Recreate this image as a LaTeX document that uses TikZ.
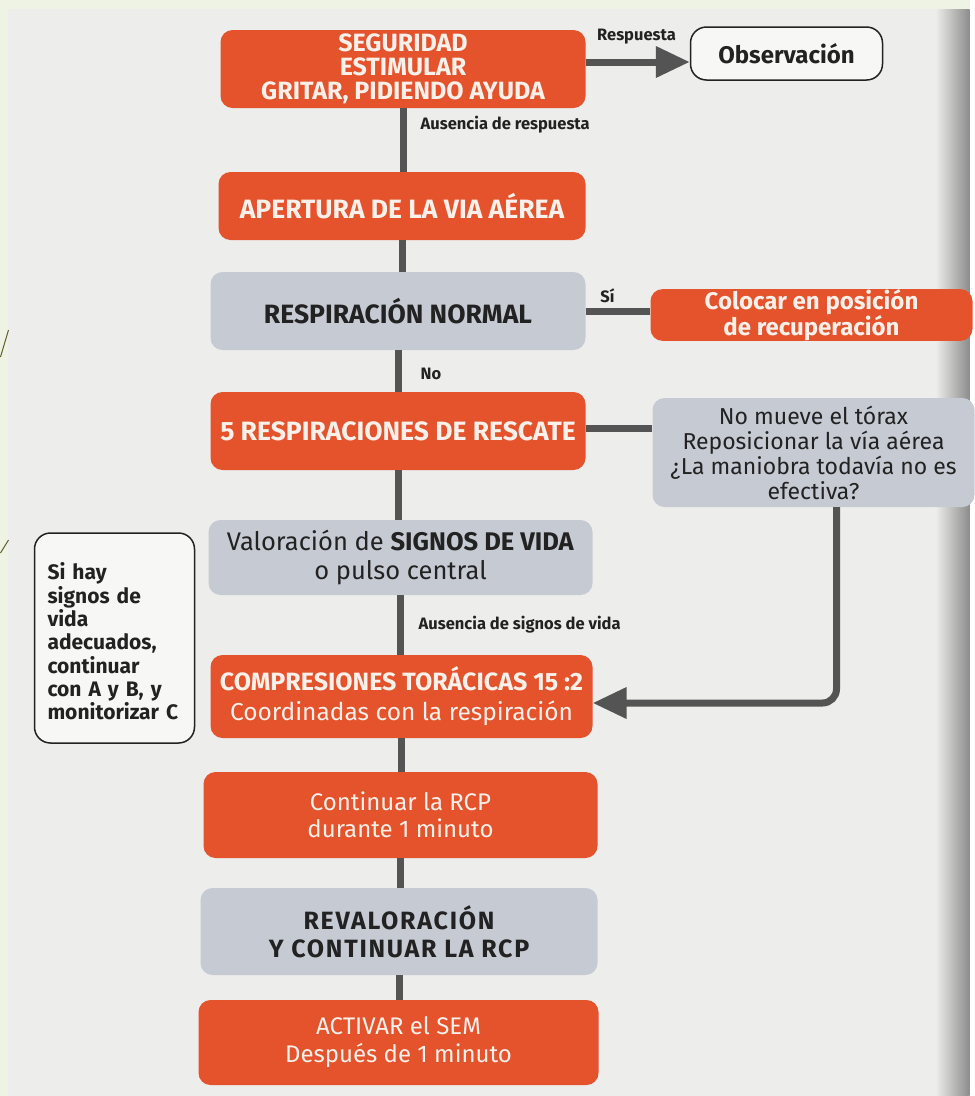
\documentclass[tikz,border=0pt]{standalone}
\usepackage{fontspec}
\setmainfont{Fira Sans}
\usetikzlibrary{positioning}
\usetikzlibrary{arrows.meta,calc}
\definecolor{cprorange}{HTML}{E5532C}
\definecolor{cprgrey}{HTML}{C6CAD2}
\definecolor{cprline}{HTML}{545454}
\definecolor{cprpage}{HTML}{EDEDEB}
\definecolor{cprstrip}{HTML}{EEF3E4}
\definecolor{cprtext}{HTML}{222222}
\definecolor{cprwhite}{HTML}{FBF1EA}
\newcommand{\cprtitle}{\fontsize{26.5}{28}\selectfont\bfseries}
\tikzstyle{orangebox}=[rectangle,rounded corners=12pt,fill=cprorange,text=cprwhite,align=center,inner sep=0pt]
\tikzstyle{greybox}=[rectangle,rounded corners=12pt,fill=cprgrey,text=cprtext,align=center,inner sep=0pt]
\tikzstyle{whitebox}=[rectangle,rounded corners=16pt,draw=cprtext,line width=1.5pt,fill=white!55!cprpage,text=cprtext,inner sep=0pt]
\tikzstyle{connector}=[draw=cprline,line width=7pt]
\tikzstyle{arrowedge}=[draw=cprline,line width=7pt,-{Triangle[length=34pt,width=30pt]}]
\tikzstyle{branchlabel}=[font=\fontsize{16.5}{18}\selectfont\bfseries,text=cprtext,inner sep=0pt]

\begin{document}
\begin{tikzpicture}[x=1pt,y=-1pt]
    % The photographed page
    \fill[cprstrip] (0,0) rectangle (969,1096);
    \fill[cprpage] (8,9) rectangle (969,1096);
    \shade[left color=cprpage,right color=black!45] (935,9) rectangle (969,1096);
    \draw[olive!60!black,line width=1pt] (8,330) -- (0,357);
    \draw[olive!60!black,line width=1pt] (8,540) -- (0,553);

    % Main column
    \node[orangebox,minimum width=365pt,minimum height=78pt,font=\fontsize{25}{24}\selectfont\bfseries] (seg) at (402.5,69) {SEGURIDAD\\ESTIMULAR\\GRITAR, PIDIENDO AYUDA};
    \node[orangebox,minimum width=367pt,minimum height=68pt,font=\cprtitle] (aper) at (401.5,206) {APERTURA DE LA VIA AÉREA};
    \node[greybox,minimum width=375pt,minimum height=78pt,font=\cprtitle] (resp) at (397.5,311) {RESPIRACIÓN NORMAL};
    \node[orangebox,minimum width=375pt,minimum height=78pt,font=\cprtitle] (rescate) at (397.5,431) {5 RESPIRACIONES DE RESCATE};
    \node[greybox,minimum width=384pt,minimum height=75pt,font=\fontsize{25.5}{29}\selectfont] (valor) at (400,557.5) {Valoración de \textbf{SIGNOS DE VIDA}\\o pulso central};
    \node[orangebox,minimum width=382pt,minimum height=83pt,font=\fontsize{24.5}{30}\selectfont] (compr) at (401,696.5) {\textbf{\fontsize{25}{30}\selectfont COMPRESIONES TORÁCICAS 15 :2}\\Coordinadas con la respiración};
    \node[orangebox,minimum width=394pt,minimum height=86pt,font=\fontsize{24}{27}\selectfont] (contin) at (400,815) {Continuar la RCP\\durante 1 minuto};
    \node[greybox,minimum width=397pt,minimum height=87pt,font=\fontsize{25}{28}\selectfont\bfseries\addfontfeature{LetterSpace=7}] (reval) at (398.5,931.5) {REVALORACIÓN\\Y CONTINUAR LA RCP};
    \node[orangebox,minimum width=400pt,minimum height=85pt,font=\fontsize{24}{28}\selectfont] (activ) at (398,1042.5) {ACTIVAR el SEM\\Después de 1 minuto};

    % Side boxes
    \node[whitebox,minimum width=192pt,minimum height=53pt,font=\fontsize{24}{26}\selectfont\bfseries] (obs) at (786,53.5) {Observación};
    \node[orangebox,minimum width=322pt,minimum height=50pt,font=\fontsize{24}{25}\selectfont\bfseries] (coloc) at (811,315) {Colocar en posición\\de recuperación};
    \node[greybox,minimum width=322pt,minimum height=109pt,font=\fontsize{23}{25}\selectfont] (mueve) at (813,452.5) {No mueve el tórax\\Reposicionar la vía aérea\\¿La maniobra todavía no es\\efectiva?};
    \node[whitebox,text width=134pt,inner xsep=13pt,minimum height=210pt,align=left,font=\fontsize{21}{23.3}\selectfont\bfseries] (signos) at (114,638) {\rule{0pt}{24pt}Si hay\\signos de\\vida\\adecuados,\\continuar\\con A y B, y\\monitorizar C};

    % Connect the main column
    \foreach \source/\dest in {seg/aper, aper/resp, resp/rescate, rescate/valor, valor/compr, compr/contin, contin/reval, reval/activ}
        \path[connector] (\source.south) -- (\source.south |- \dest.north);

    % Branches
    \path[arrowedge] ([yshift=7pt]seg.east) -- ([yshift=7pt]seg.east -| obs.west);
    \path[connector] (resp.east) -- (resp.east -| coloc.west);
    \path[connector] ([yshift=3pt]rescate.east) -- ([yshift=3pt]rescate.east -| mueve.west);
    \path[arrowedge,rounded corners=14pt] ([xshift=23pt]mueve.south) |- ([yshift=-6.5pt]compr.east);

    % Branch labels
    \node[branchlabel] (resplabel) at (636,37) {Respuesta};
    \node[branchlabel,anchor=west] (ausresp) at (420,125) {Ausencia de respuesta};
    \node[branchlabel] (silabel) at (607,296) {Sí};
    \node[branchlabel,anchor=west] (nolabel) at (420,374) {No};
    \node[branchlabel,anchor=west] (aussignos) at (418,625) {Ausencia de signos de vida};
\end{tikzpicture}
\end{document}
